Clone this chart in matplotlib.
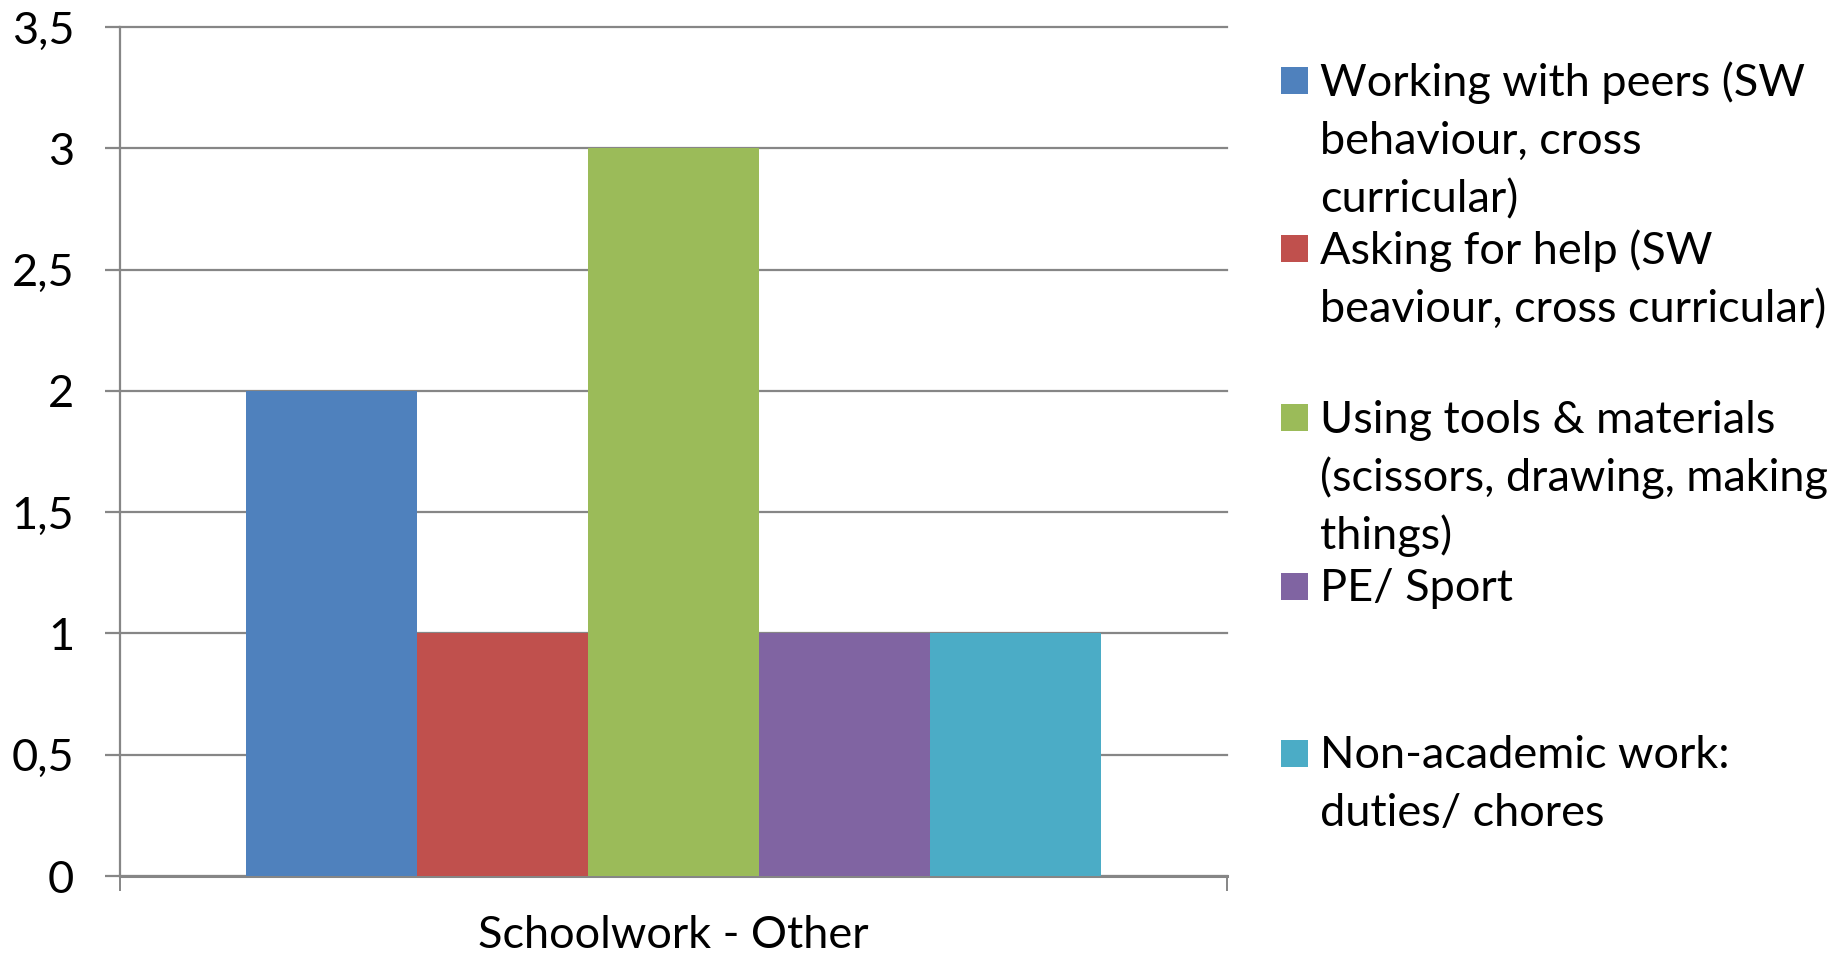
import matplotlib
matplotlib.use("Agg")
import matplotlib.pyplot as plt
from matplotlib.patches import Rectangle

plt.rcParams['font.family'] = ['Lato', 'DejaVu Sans']

category = "Schoolwork - Other"
series_labels = [
    "Working with peers (SW\nbehaviour, cross\ncurricular)",
    "Asking for help (SW\nbeaviour, cross curricular)",
    "Using tools & materials\n(scissors, drawing, making\nthings)",
    "PE/ Sport",
    "Non-academic work:\nduties/ chores",
]
values = [2, 1, 3, 1, 1]
colors = ["#4F81BD", "#C0504D", "#9BBB59", "#8064A2", "#4BACC6"]
yticks = [0, 0.5, 1, 1.5, 2, 2.5, 3, 3.5]
ytick_labels = ["0", "0,5", "1", "1,5", "2", "2,5", "3", "3,5"]

W, H = 1845, 955
fig = plt.figure(figsize=(W / 100, H / 100), dpi=100)
ax = fig.add_axes([120 / W, 1 - 876 / H, (1227 - 120) / W, (876 - 27) / H])

grid_c = "#868686"
fs = 32.5

n = len(values)
bw = 171 / 1107
for i, (v, c) in enumerate(zip(values, colors)):
    ax.bar((i - (n - 1) / 2) * bw, v, width=bw, color=c, zorder=3, linewidth=0)

ax.set_xlim(-0.5, 0.5)
ax.set_ylim(0, 3.5)
ax.set_yticks(yticks)
ax.set_yticklabels(ytick_labels, fontsize=fs)
for y in yticks:
    ax.axhline(y, color=grid_c, lw=1.6, zorder=1, clip_on=False)

ax.set_xticks([0])
ax.set_xticklabels([category], fontsize=fs)
ax.set_xticks([-0.5, 0.5], minor=True)
ax.tick_params(axis='x', which='major', length=0, pad=28)
ax.tick_params(axis='x', which='minor', length=11, width=1.4, color=grid_c, direction='out')
ax.tick_params(axis='y', length=11, width=1.6, color=grid_c, direction='out', pad=22)

for s in ['top', 'right']:
    ax.spines[s].set_visible(False)
ax.spines['left'].set_color(grid_c)
ax.spines['left'].set_linewidth(1.6)
ax.spines['bottom'].set_color(grid_c)
ax.spines['bottom'].set_linewidth(2.2)

# legend drawn in figure pixel coordinates
marker_centers = [81, 249, 418, 586, 753]
msize = 27
line_h = 58
for lab, c, yc in zip(series_labels, colors, marker_centers):
    fig.patches.append(Rectangle((1281 / W, 1 - (yc + msize / 2) / H), msize / W, msize / H,
                                 transform=fig.transFigure, facecolor=c, edgecolor='none'))
    for k, line in enumerate(lab.split("\n")):
        fig.text(1320 / W, 1 - (yc + 15 + k * line_h) / H, line, fontsize=fs,
                 va='baseline', ha='left')

fig.savefig("out.png", dpi=100)
